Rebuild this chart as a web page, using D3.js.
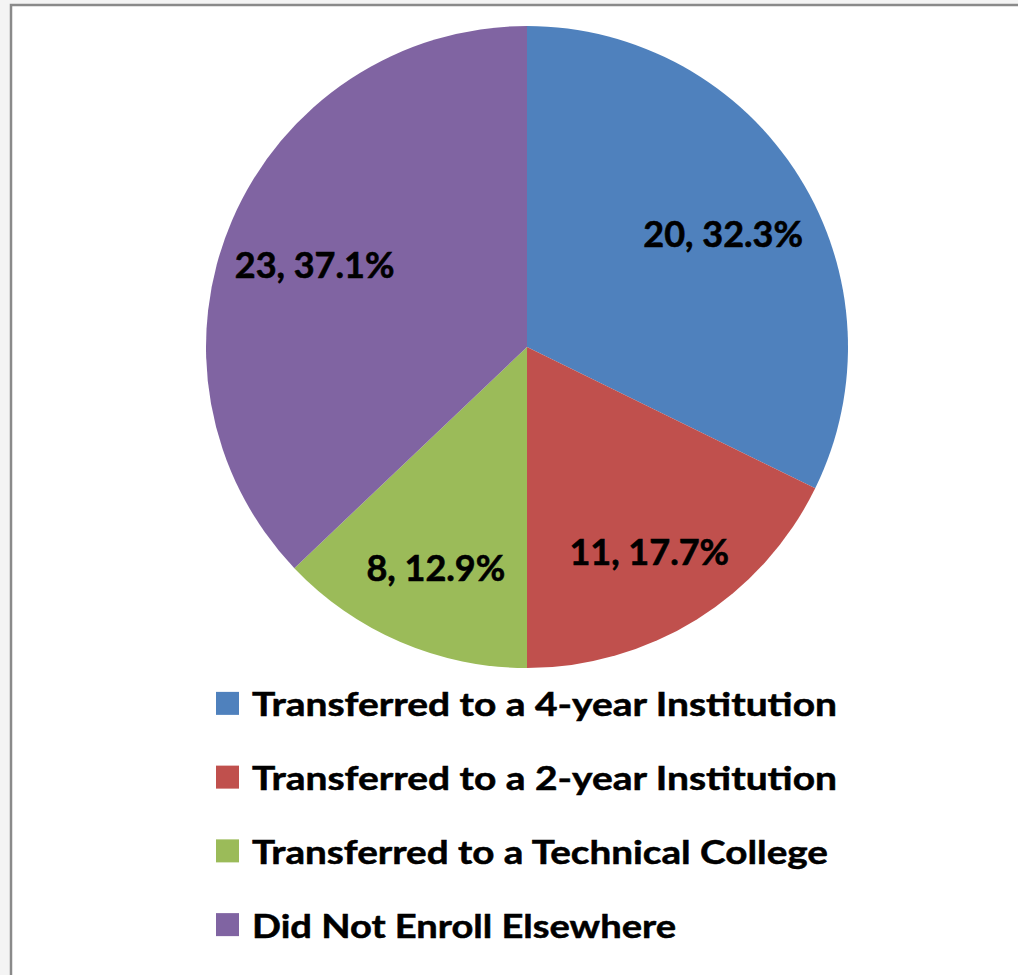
<!DOCTYPE html>
<html>
<head>
<meta charset="utf-8">
<script src="https://cdn.jsdelivr.net/npm/d3@7"></script>
<style>
  html, body { margin: 0; padding: 0; background: #ffffff; }
  svg { display: block; }
  text { font-family: Lato, "Open Sans", sans-serif; font-weight: 700; fill: #000; }
</style>
</head>
<body>
<svg id="chart" width="1018" height="975"></svg>
<script>
const categories = [
  "Transferred to a 4-year Institution",
  "Transferred to a 2-year Institution",
  "Transferred to a Technical College",
  "Did Not Enroll Elsewhere"
];
const counts = [20, 11, 8, 23];
const percents = ["32.3%", "17.7%", "12.9%", "37.1%"];
const colors = ["#4F81BD", "#C0504D", "#9BBB59", "#8064A2"];

const W = 1018, H = 975;
const svg = d3.select("#chart");

// outer frame
svg.append("rect").attr("x", 0).attr("y", 0).attr("width", W).attr("height", H).attr("fill", "#f4f4f4");
svg.append("rect").attr("x", 11).attr("y", 5).attr("width", W + 20).attr("height", H + 20)
  .attr("fill", "#ffffff").attr("stroke", "#8a8a8a").attr("stroke-width", 2.5);

const cx = 527, cy = 347, R = 321;
const data = categories.map((c, i) => ({ name: c, count: counts[i], pct: percents[i], color: colors[i] }));

const pie = d3.pie().sort(null).value(d => d.count);
const arc = d3.arc().innerRadius(0).outerRadius(R);
const labelArc = d3.arc().innerRadius(0).outerRadius(R * 1.44);

const g = svg.append("g").attr("transform", `translate(${cx},${cy})`);
const arcs = pie(data);

g.selectAll("path.slice").data(arcs).enter().append("path")
  .attr("class", "slice")
  .attr("d", arc)
  .attr("fill", d => d.data.color)
  .attr("stroke", "none");

g.selectAll("text.lbl").data(arcs).enter().append("text")
  .attr("class", "lbl")
  .attr("transform", d => { const c = labelArc.centroid(d); return `translate(${c[0]},${c[1] + 8})`; })
  .attr("text-anchor", "middle")
  .attr("dominant-baseline", "central")
  .style("font-size", "36px")
  .style("stroke", "#000").style("stroke-width", "0.6px")
  .text(d => `${d.data.count}, ${d.data.pct}`);

// legend
const legendY = d3.scaleBand().domain(categories).range([667, 962]);
const legendWidths = [585, 585, 576, 424];
const lg = svg.append("g");
const rows = lg.selectAll("g.row").data(data).enter().append("g")
  .attr("class", "row")
  .attr("transform", d => `translate(0,${legendY(d.name) + legendY.bandwidth() / 2})`);
rows.append("rect")
  .attr("x", 216).attr("y", -12).attr("width", 23).attr("height", 23)
  .attr("fill", d => d.color);
rows.append("text")
  .attr("x", 252).attr("y", 0)
  .attr("dominant-baseline", "central")
  .style("font-size", "32px")
  .style("stroke", "#000").style("stroke-width", "0.5px")
  .attr("textLength", (d, i) => legendWidths[i])
  .attr("lengthAdjust", "spacingAndGlyphs")
  .text(d => d.name);
</script>
</body>
</html>
